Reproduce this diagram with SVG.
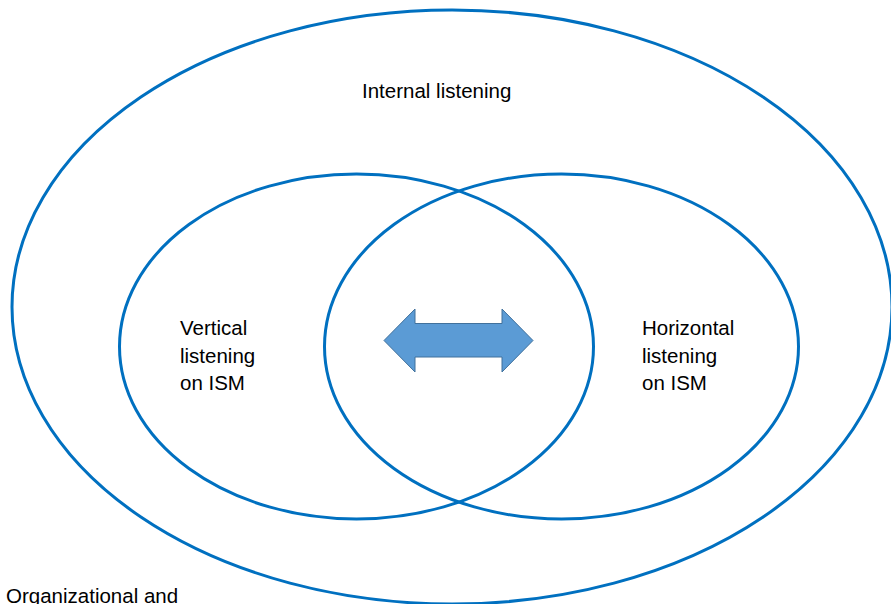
<svg xmlns="http://www.w3.org/2000/svg" width="891" height="604" viewBox="0 0 891 604">
<style>
.ring{fill:none;stroke:#0070C0;stroke-width:3}
.t{font-family:"Liberation Sans",Arial,sans-serif;font-size:20.5px;fill:#000}
</style>
<rect width="891" height="604" fill="#fff"/>
<g id="internal">
<ellipse class="ring" cx="452" cy="307" rx="440" ry="297"/>
<text class="t" x="362" y="98">Internal listening</text>
</g>
<g id="vertical">
<ellipse class="ring" cx="356.5" cy="346.5" rx="237" ry="172.5"/>
<text class="t"><tspan x="180" y="335">Vertical</tspan><tspan x="180" y="363">listening</tspan><tspan x="180" y="390">on ISM</tspan></text>
</g>
<g id="horizontal">
<ellipse class="ring" cx="561.5" cy="346.5" rx="237" ry="172.5"/>
<text class="t"><tspan x="642" y="335">Horizontal</tspan><tspan x="642" y="363">listening</tspan><tspan x="642" y="390">on ISM</tspan></text>
</g>
<g id="organizational">
<text class="t" x="6" y="603">Organizational and</text>
</g>
<g id="connectors">
<polygon points="384,340.5 415,309 415,323.5 502,323.5 502,309 533,340.5 502,372 502,357 415,357 415,372" fill="#5B9BD5" stroke="#41719C" stroke-width="1"/>
</g>
</svg>
